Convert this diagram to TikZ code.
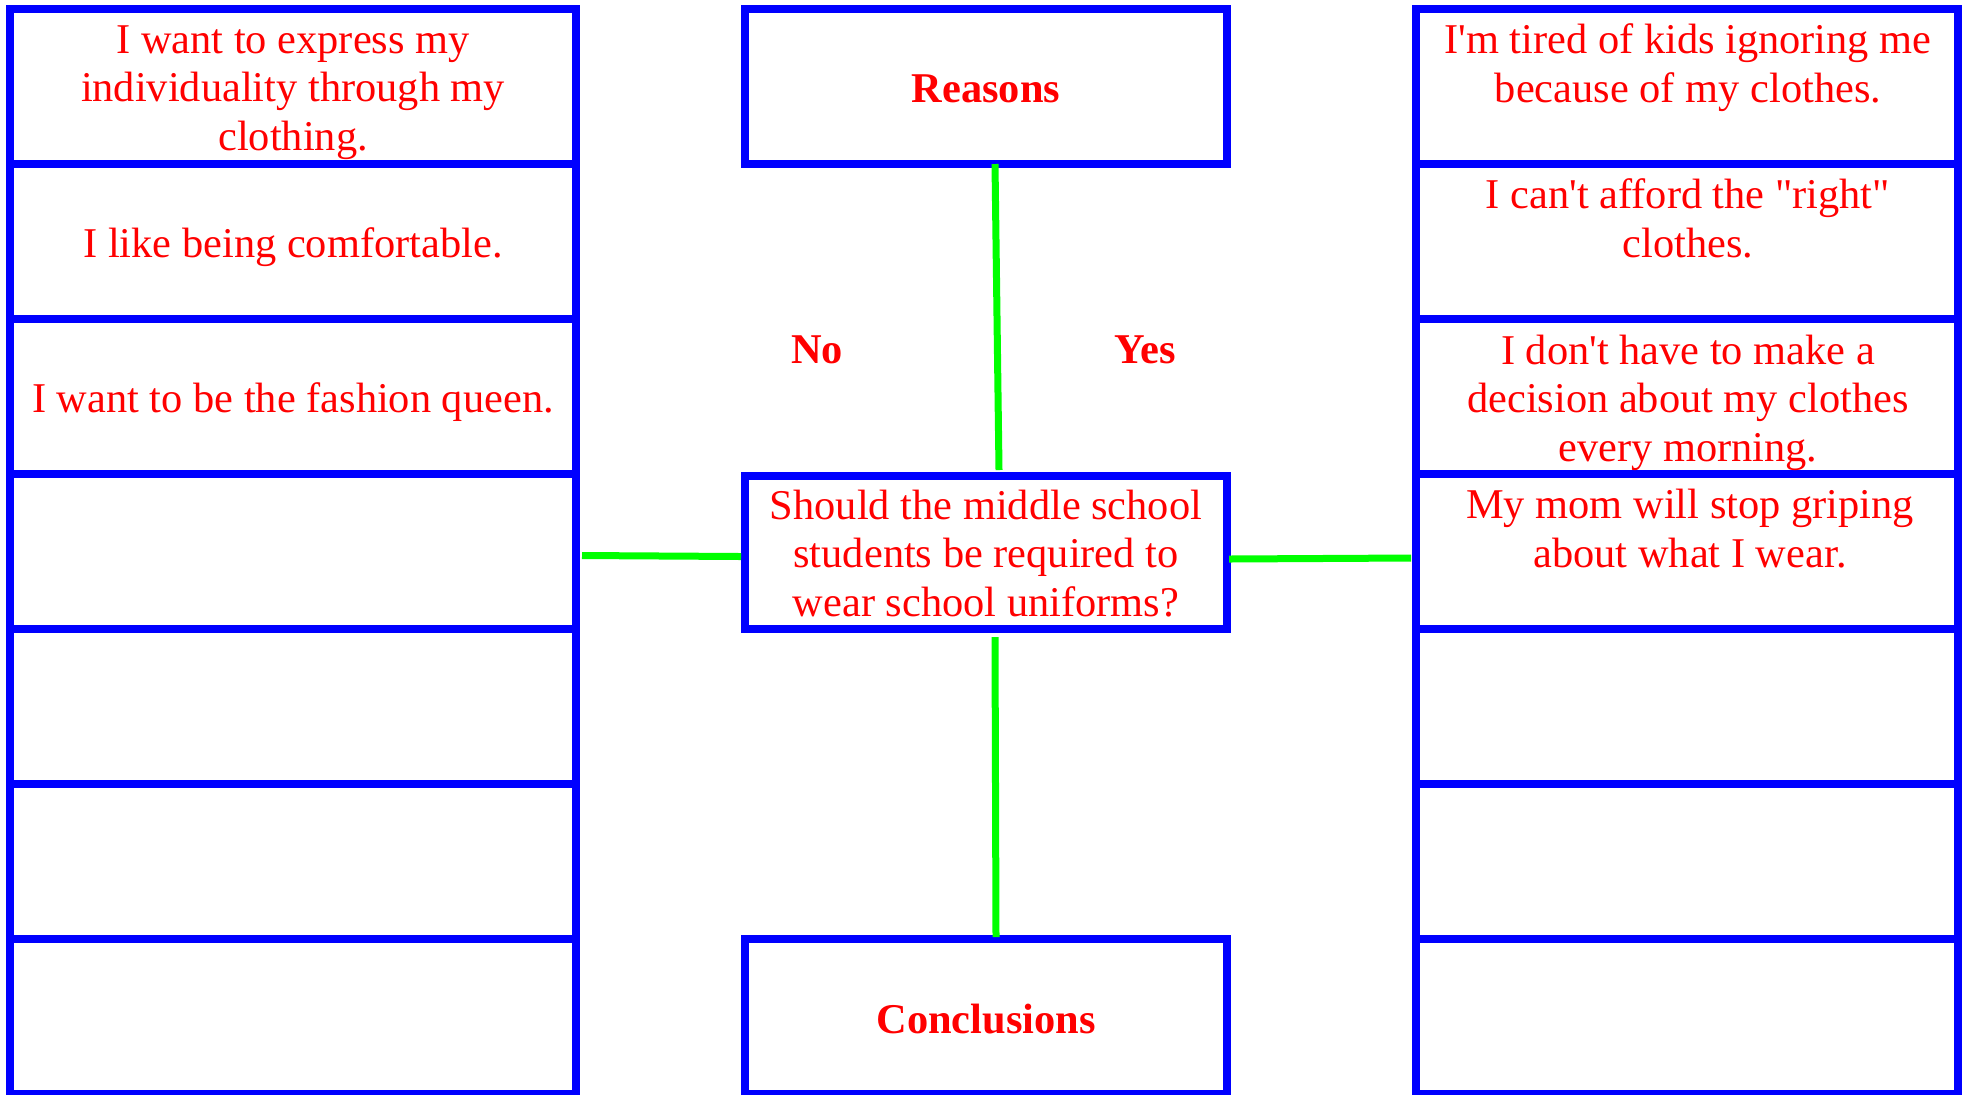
\documentclass[tikz,border=0pt]{standalone}
\usepackage{fontspec}
\newfontfamily\tnr{Liberation Serif}
\usetikzlibrary{calc}
\begin{document}
\begin{tikzpicture}[x=0.5pt,y=-0.5pt,
  cell/.style={draw=blue, line width=4pt, inner sep=0pt},
  lcell/.style={cell, minimum width=283pt, minimum height=77.5pt},
  rcell/.style={cell, minimum width=271pt, minimum height=77.5pt},
  ccell/.style={cell, minimum width=241pt, minimum height=77.5pt},
  txt/.style={text=red, font=\tnr\fontsize{21.2pt}{24.25pt}\selectfont, align=center, inner sep=0pt, anchor=base},
  btxt/.style={txt, font=\tnr\bfseries\fontsize{21.2pt}{24.25pt}\selectfont},
  link/.style={draw=green, line width=3.5pt}
]
\fill[white] (0,0) rectangle (1969,1094);
\useasboundingbox (0,0) rectangle (1969,1094);

% left and right columns of seven cells
\foreach \i in {1,...,7} {
  \node[lcell] (l\i) at (293, {86.5+155*(\i-1)}) {};
  \node[rcell] (r\i) at (1687, {86.5+155*(\i-1)}) {};
}

% centre boxes
\node[ccell] (reasons) at (986, 86.5) {};
\node[ccell, minimum height=76.5pt] (question) at (986, 552.5) {};
\node[ccell] (concl) at (986, 1016.5) {};

% texts in the left column (placed by the baseline of their last line)
\node[txt] (tl1) at (293, 150) {I want to express my\\individuality through my\\clothing.};
\node[txt] (tl2) at (293, 257) {I like being comfortable.};
\node[txt] (tl3) at (293, 412) {I want to be the fashion queen.};

% texts in the right column
\node[txt] (tr1) at (1688, 102) {I'm tired of kids ignoring me\\because of my clothes.};
\node[txt] (tr2) at (1688, 257) {I can't afford the "right"\\clothes.};
\node[txt] (tr3) at (1688, 461) {I don't have to make a\\decision about my clothes\\every morning.};
\node[txt] (tr4) at (1690, 567) {My mom will stop griping\\about what I wear.};

% texts in the centre
\node[btxt] (treasons) at (986, 102) {Reasons};
\node[txt] (tquestion) at (986, 616) {Should the middle school\\students be required to\\wear school uniforms?};
\node[btxt] (tconcl) at (986, 1033) {Conclusions};
\node[btxt] (no) at (817, 363) {No};
\node[btxt] (yes) at (1145, 363) {Yes};

% green connectors
\draw[link] ($(reasons.south)+(9,-4)$) -- ($(question.north)+(13,-2)$);
\draw[link] ($(question.south)+(9,4)$) -- ($(concl.north)+(10,2)$);
\draw[link] ($(l4.east)+(2,4)$) -- ($(question.west)+(0,4)$);
\draw[link] ($(question.east)+(-2,6.5)$) -- ($(r4.west)+(-1,6.5)$);
\end{tikzpicture}
\end{document}
